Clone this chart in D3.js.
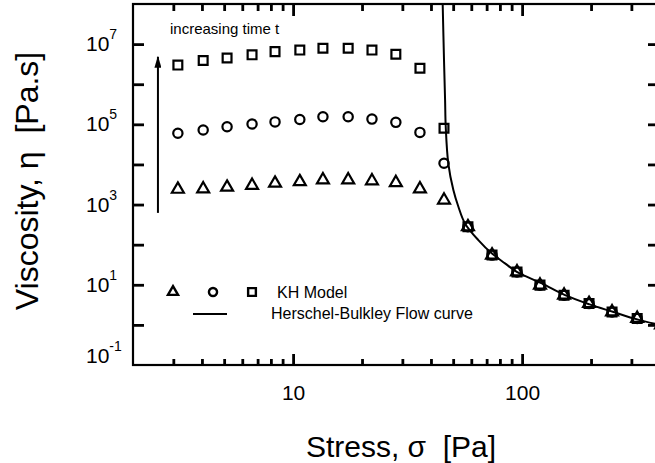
<!DOCTYPE html>
<html>
<head>
<meta charset="utf-8">
<script src="https://cdnjs.cloudflare.com/ajax/libs/d3/7.8.5/d3.min.js"></script>
<style>
    body { margin: 0; background: #fff; }
    svg text { font-family: "Liberation Sans", Arial, Helvetica, sans-serif; fill: #000; }
</style>
</head>
<body>
<div id="chart"></div>
<script>
// stress values of the KH model plateau points [Pa]
const stressKH = [3.14, 4.05, 5.15, 6.62, 8.34, 10.7, 13.5, 17.4, 22.1, 28.1, 35.8, 45.6];
// viscosity for the three times [Pa.s]
const etaTriangle = [2400, 2450, 2700, 3000, 3400, 3700, 4100, 4100, 3900, 3500, 2450, 1290];
const etaCircle = [6.0e4, 7.2e4, 8.7e4, 1.02e5, 1.15e5, 1.32e5, 1.55e5, 1.55e5, 1.35e5, 1.12e5, 6.3e4, 1.07e4];
const etaSquare = [3.0e6, 3.9e6, 4.5e6, 5.4e6, 6.5e6, 7.1e6, 7.9e6, 7.9e6, 7.1e6, 5.6e6, 2.5e6, 8.0e4];

// points on the flow curve, all three symbols sit on top of each other
const stressFlow = [58.0, 73.9, 95.0, 119.7, 152.5, 196, 247, 318, 404];
const etaFlow = [279, 55, 20.9, 9.8, 5.5, 3.4, 2.1, 1.45, 1.0];

// Herschel-Bulkley flow curve
const hbStress = [45.0, 45.6, 46.1, 46.4, 47.6, 50.1, 52.7, 56.3, 64.4, 73.7, 84.2, 94.8, 122, 154, 197, 249, 318, 400];
const hbEta = [1e8, 4.0e6, 4.0e5, 8.7e4, 1.07e4, 2300, 880, 339, 130, 60.7, 34.2, 21.1, 10.8, 5.5, 3.24, 2.12, 1.37, 0.99];

// ticks
const xMajorTicks = [10, 100];
const xMinorTicks = [3, 4, 5, 6, 7, 8, 9, 20, 30, 40, 50, 60, 70, 80, 90, 200, 300];
const yTicks = [1e0, 1e1, 1e2, 1e3, 1e4, 1e5, 1e6, 1e7];
const yLabelValues = [1e-1, 1e1, 1e3, 1e5, 1e7];
const yLabelExp = ["-1", "1", "3", "5", "7"];

// "increasing time t" arrow, in data units
const arrowStress = [2.57, 2.57];
const arrowEta = [620, 4.8e6];

class ViscosityChart {
    constructor(parentElement) {
        this.parentElement = parentElement;
        this.initVis();
    }

    initVis() {
        let vis = this;
        vis.width = 655;
        vis.height = 463;
        vis.plot = {left: 133, right: 660, top: 4, bottom: 365};

        vis.svg = d3.select("#" + vis.parentElement).append("svg")
            .attr("width", vis.width)
            .attr("height", vis.height);

        vis.x = d3.scaleLog().domain([2, 400]).range([vis.plot.left, vis.plot.right]);
        vis.y = d3.scaleLog().domain([1e-1, 1e8]).range([vis.plot.bottom, vis.plot.top]);

        vis.drawAxes();
        vis.drawData();
        vis.drawLegend();
    }

    drawAxes() {
        let vis = this;
        let p = vis.plot;

        let styleAxis = function (g) {
            g.select(".domain").remove();
            g.selectAll(".tick line").attr("stroke", "#000").attr("stroke-width", 2.8);
        };

        // bottom
        vis.svg.append("g")
            .attr("transform", `translate(0,${p.bottom})`)
            .call(d3.axisBottom(vis.x).tickValues(xMinorTicks).tickSize(-6).tickFormat(""))
            .call(styleAxis);
        vis.svg.append("g")
            .attr("transform", `translate(0,${p.bottom})`)
            .call(d3.axisBottom(vis.x).tickValues(xMajorTicks).tickSize(-11).tickPadding(20)
                .tickFormat(d3.format("d")))
            .call(styleAxis)
            .selectAll("text")
            .style("font-size", "21px");

        // top
        vis.svg.append("g")
            .attr("transform", `translate(0,${p.top})`)
            .call(d3.axisTop(vis.x).tickValues(xMinorTicks).tickSize(-7).tickFormat(""))
            .call(styleAxis);
        vis.svg.append("g")
            .attr("transform", `translate(0,${p.top})`)
            .call(d3.axisTop(vis.x).tickValues(xMajorTicks).tickSize(-12).tickFormat(""))
            .call(styleAxis);

        // left and right
        vis.svg.append("g")
            .attr("transform", `translate(${p.left},0)`)
            .call(d3.axisLeft(vis.y).tickValues(yTicks).tickSize(-11).tickFormat(""))
            .call(styleAxis);
        vis.svg.append("g")
            .attr("transform", `translate(${p.right},0)`)
            .call(d3.axisRight(vis.y).tickValues(yTicks).tickSize(-12).tickFormat(""))
            .call(styleAxis);

        // frame
        vis.svg.append("rect")
            .attr("x", p.left)
            .attr("y", p.top)
            .attr("width", p.right - p.left)
            .attr("height", p.bottom - p.top)
            .attr("fill", "none")
            .attr("stroke", "#000")
            .attr("stroke-width", 2.2);

        // y labels 10^n
        let lab = vis.svg.append("g").selectAll("text")
            .data(yLabelValues)
            .enter()
            .append("text")
            .attr("x", 86)
            .attr("y", function (d, i) {
                return i === 0 ? vis.y(d) - 2 : vis.y(d) + 7;
            })
            .style("font-size", "21px");
        lab.append("tspan").text("10");
        lab.append("tspan")
            .attr("dy", -12)
            .style("font-size", "14px")
            .text(function (d, i) { return yLabelExp[i]; });

        // axis titles
        vis.svg.append("text")
            .attr("x", 401)
            .attr("y", 457)
            .attr("text-anchor", "middle")
            .style("font-size", "30px")
            .text("Stress, \u03c3  [Pa]")
            .attr("xml:space", "preserve");

        vis.svg.append("text")
            .attr("transform", "translate(38,181) rotate(-90)")
            .attr("text-anchor", "middle")
            .style("font-size", "32px")
            .attr("xml:space", "preserve")
            .text("Viscosity, \u03b7  [Pa.s]");
    }

    drawData() {
        let vis = this;

        vis.svg.append("defs").append("clipPath")
            .attr("id", "plotClip")
            .append("rect")
            .attr("x", vis.plot.left)
            .attr("y", vis.plot.top)
            .attr("width", vis.plot.right - vis.plot.left + 8)
            .attr("height", vis.plot.bottom - vis.plot.top);

        let area = vis.svg.append("g").attr("clip-path", "url(#plotClip)");

        // Herschel-Bulkley line
        let line = d3.line()
            .x(function (d) { return vis.x(d[0]); })
            .y(function (d) { return vis.y(d[1]); })
            .curve(d3.curveCatmullRom.alpha(0.5));

        area.append("path")
            .datum(hbStress.map(function (s, i) { return [s, hbEta[i]]; }))
            .attr("d", line)
            .attr("fill", "none")
            .attr("stroke", "#000")
            .attr("stroke-width", 2);

        let series = [
            {type: d3.symbolTriangle, size: 62, eta: etaTriangle},
            {type: d3.symbolCircle, size: 68, eta: etaCircle},
            {type: d3.symbolSquare, size: 78, eta: etaSquare}
        ];

        series.forEach(function (s) {
            let pts = stressKH.map(function (x, i) { return [x, s.eta[i]]; })
                .concat(stressFlow.map(function (x, i) { return [x, etaFlow[i]]; }));

            area.append("g").selectAll("path")
                .data(pts)
                .enter()
                .append("path")
                .attr("d", d3.symbol().type(s.type).size(s.size))
                .attr("transform", function (d) {
                    return "translate(" + vis.x(d[0]) + "," + vis.y(d[1]) + ")";
                })
                .attr("fill", "none")
                .attr("stroke", "#000")
                .attr("stroke-width", 2.2);
        });

        // arrow
        vis.svg.append("defs").append("marker")
            .attr("id", "arrowHead")
            .attr("viewBox", "0 0 10 10")
            .attr("refX", 9)
            .attr("refY", 5)
            .attr("markerWidth", 12)
            .attr("markerHeight", 7)
            .attr("markerUnits", "userSpaceOnUse")
            .attr("orient", "auto")
            .attr("preserveAspectRatio", "none")
            .append("path")
            .attr("d", "M0,0 L10,5 L0,10 z")
            .attr("fill", "#000");

        vis.svg.append("line")
            .attr("x1", vis.x(arrowStress[0]))
            .attr("y1", vis.y(arrowEta[0]))
            .attr("x2", vis.x(arrowStress[1]))
            .attr("y2", vis.y(arrowEta[1]))
            .attr("stroke", "#000")
            .attr("stroke-width", 2)
            .attr("marker-end", "url(#arrowHead)");

        vis.svg.append("text")
            .attr("x", 170)
            .attr("y", 34)
            .style("font-size", "15px")
            .text("increasing time t");
    }

    drawLegend() {
        let vis = this;
        let lg = vis.svg.append("g");

        let symbols = [d3.symbolTriangle, d3.symbolCircle, d3.symbolSquare];
        let sizes = [44, 52, 60];
        let xs = [173, 213, 252];

        symbols.forEach(function (t, i) {
            lg.append("path")
                .attr("d", d3.symbol().type(t).size(sizes[i]))
                .attr("transform", `translate(${xs[i]},292)`)
                .attr("fill", "none")
                .attr("stroke", "#000")
                .attr("stroke-width", 2.4);
        });

        lg.append("text")
            .attr("x", 277)
            .attr("y", 298)
            .style("font-size", "16px")
            .text("KH Model");

        lg.append("line")
            .attr("x1", 193)
            .attr("x2", 227)
            .attr("y1", 314)
            .attr("y2", 314)
            .attr("stroke", "#000")
            .attr("stroke-width", 2);

        lg.append("text")
            .attr("x", 271)
            .attr("y", 319)
            .style("font-size", "16px")
            .text("Herschel-Bulkley Flow curve");
    }
}

new ViscosityChart("chart");
</script>
</body>
</html>
